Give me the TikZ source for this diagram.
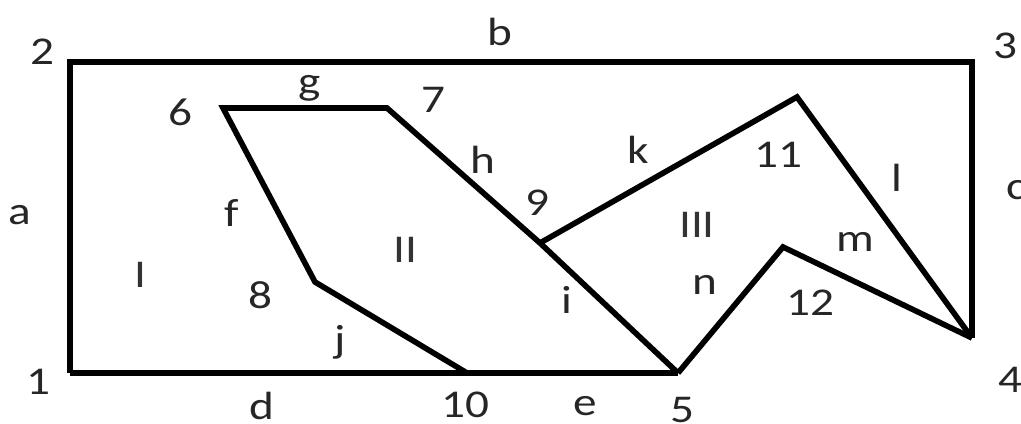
\documentclass[tikz,border=0pt]{standalone}
\usepackage{fontspec}
\setmainfont{Carlito}[FakeStretch=1.2]
\usepackage{tikz}

\begin{document}
\begin{tikzpicture}[
  edge/.style={line width=4pt, black, line join=miter},
  num/.style={inner sep=0pt, font=\fontsize{28}{30}\selectfont, text=black!85},
  lbl/.style={inner sep=0pt, font=\fontsize{28}{30}\selectfont, text=black!85},
  reg/.style={inner sep=0pt, font=\fontsize{28}{30}\selectfont, text=black!80},
]
\useasboundingbox (0,0) rectangle (25.525,10.6);
\coordinate (p1) at (1.75,1.275);
\coordinate (p2) at (1.75,9.05);
\coordinate (p3) at (24.3,9.05);
\coordinate (p4) at (24.3,2.15);
\coordinate (p5) at (16.95,1.275);
\coordinate (p6) at (5.575,7.9);
\coordinate (p7) at (9.675,7.9);
\coordinate (p8) at (7.875,3.55);
\coordinate (p9) at (13.5,4.525);
\coordinate (p10) at (11.675,1.275);
\coordinate (p11) at (19.925,8.175);
\coordinate (p12) at (19.575,4.425);
\draw[edge] (p1) -- (p2) -- (p3) -- (p4);
\draw[edge] (p1) -- (p10) -- (p5);
\draw[edge] (p10) -- (p8) -- (p6) -- (p7) -- (p9) -- (p5);
\draw[edge] (p9) -- (p11) -- (p4);
\draw[edge] (p5) -- (p12) -- (p4);
\node[num] (n1) at (0.95,1.05) {1};
\node[num] (n2) at (1.05,9.3) {2};
\node[num] (n3) at (25.125,9.45) {3};
\node[num] (n4) at (25.25,1.1) {4};
\node[num] (n5) at (17.05,0.35) {5};
\node[num] (n6) at (4.5,7.8) {6};
\node[num] (n7) at (10.825,8.1) {7};
\node[num] (n8) at (6.5,3.225) {8};
\node[num] (n9) at (13.425,5.525) {9};
\node[num] (n10) at (11.625,0.475) {10};
\node[num] (n11) at (19.45,6.725) {11};
\node[num] (n12) at (20.25,3.025) {12};
\node[lbl] (la) at (0.5,5.225) {a};
\node[lbl] (lb) at (12.5,9.8) {b};
\node[lbl] (lc) at (25.4,5.85) {c};
\node[lbl] (ld) at (6.55,0.45) {d};
\node[lbl] (le) at (14.625,0.45) {e};
\node[lbl] (lf) at (5.8,5.275) {f};
\node[lbl] (lg) at (7.75,8.4) {g};
\node[lbl] (lh) at (12.075,6.6) {h};
\node[lbl] (li) at (14.175,3.1) {i};
\node[lbl] (lj) at (8.5,2.05) {j};
\node[lbl] (lk) at (15.95,6.85) {k};
\node[lbl] (ll) at (22.425,6.15) {l};
\node[lbl] (lm) at (21.375,4.55) {m};
\node[lbl] (ln) at (17.625,3.475) {n};
\node[reg] (rI) at (3.5,3.725) {I};
\node[reg] (rII) at (10.125,4.35) {II};
\node[reg] (rIII) at (17.425,4.975) {III};
\end{tikzpicture}
\end{document}
